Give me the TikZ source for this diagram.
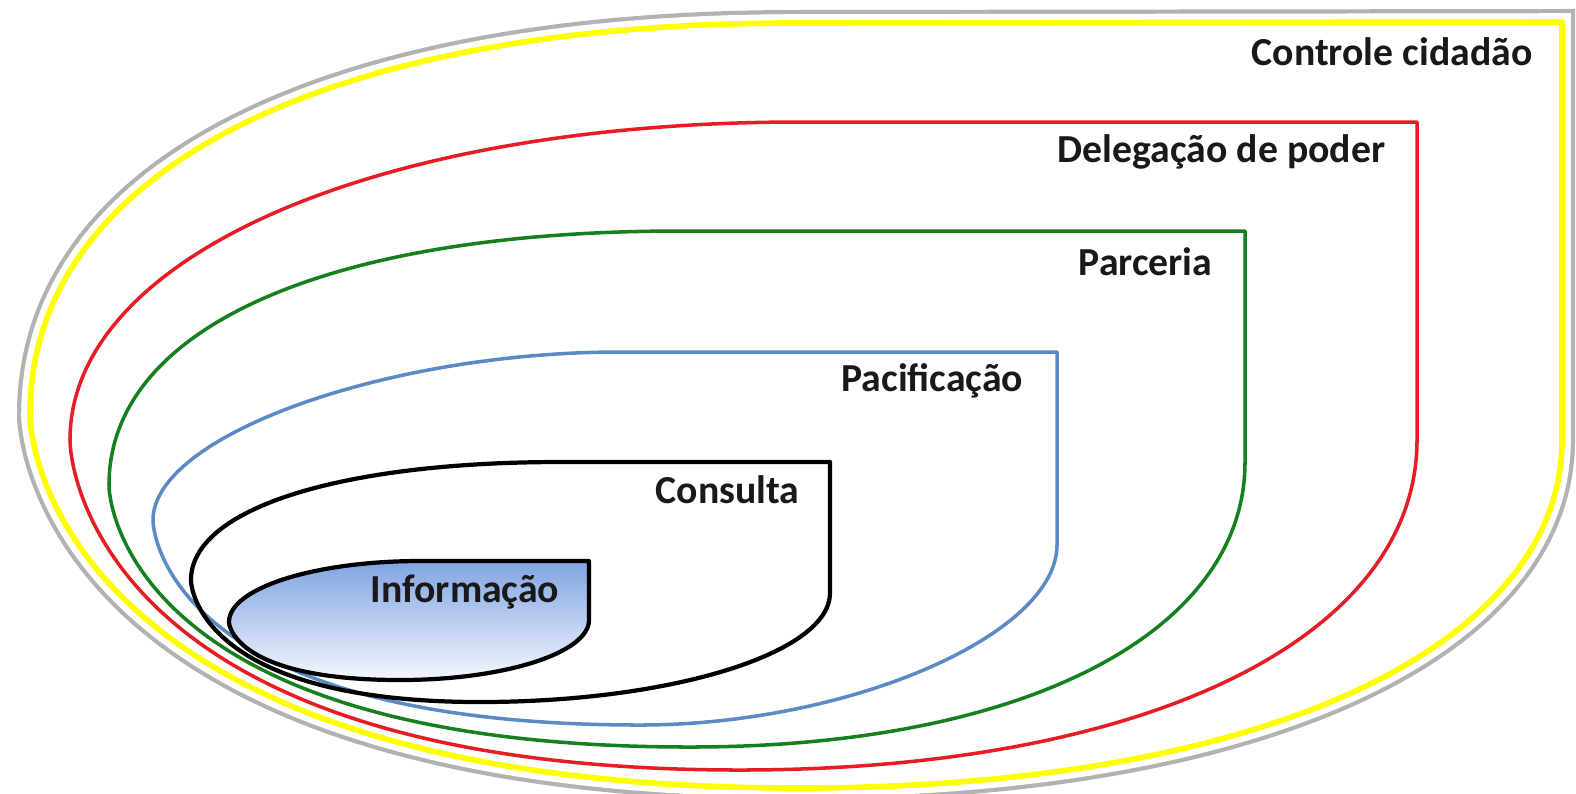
\documentclass[tikz,border=0pt]{standalone}
\usepackage{fontspec}
\setmainfont{Carlito}
\definecolor{amarelo}{RGB}{255,255,0}
\definecolor{vermelho}{RGB}{232,28,36}
\definecolor{verde}{RGB}{22,128,30}
\definecolor{azul}{RGB}{92,138,196}
\definecolor{azulinfo}{RGB}{128,164,226}

\begin{document}
\begin{tikzpicture}[x=0.01cm, y=-0.01cm,
    rotulo/.style={font=\fontsize{11.3}{13}\selectfont\bfseries, text=black!90, anchor=east, inner sep=0pt},
    borda/.style={line width=1pt, line join=round}]
      \useasboundingbox (0,0) rectangle (1576,793);
      %cantos
      \coordinate (Y) at (1562,22);
      \coordinate (R) at (1417,122);
      \coordinate (G) at (1245,231);
      \coordinate (B) at (1057,352);
      \coordinate (K) at (830,462);
      \coordinate (I) at (589,561);
      %controle cidadao
      \draw[borda, amarelo, line width=1.6pt,
        preaction={draw=gray!60, line width=7.4pt},
        preaction={fill=white, draw=white, line width=5pt}]
        (Y) -- (1562,440) .. controls (1562,649) and (1257,788) .. (800,788)
        .. controls (67,788) and (30,448) .. (30,415)
        .. controls (30,172) and (321,23) .. (796,23) -- cycle;
      %delegacao de poder
      \draw[borda, vermelho]
        (R) -- (1417,440) .. controls (1417,638) and (1146,770) .. (740,770)
        .. controls (103,770) and (70,470) .. (70,440)
        .. controls (70,256) and (377,122) .. (800,122) -- cycle;
      %parceria
      \draw[borda, verde]
        (G) -- (1245,462) .. controls (1245,633) and (1023,747) .. (690,747)
        .. controls (138,747) and (109,509) .. (109,485)
        .. controls (109,328) and (326,231) .. (680,231) -- cycle;
      %pacificacao
      \draw[borda, azul]
        (B) -- (1057,545) .. controls (1057,635) and (848,725) .. (640,725)
        .. controls (177,725) and (153,538) .. (153,520)
        .. controls (153,436) and (386,352) .. (620,352) -- cycle;
      %consulta
      \draw[borda, black, line width=1.2pt]
        (K) -- (830,593) .. controls (830,653) and (672,702) .. (480,702)
        .. controls (205,702) and (191,591) .. (191,580)
        .. controls (191,509) and (339,462) .. (560,462) -- cycle;
      %informacao
      \shadedraw[borda, draw=black, line width=1.2pt, top color=azulinfo, bottom color=azulinfo!8]
        (I) -- (589,620) .. controls (589,653) and (504,680) .. (400,680)
        .. controls (238,680) and (229,627) .. (229,622)
        .. controls (229,588) and (315,561) .. (420,561) -- cycle;
      %rotulos
      \node[rotulo] (controle) at (1533,52) {Controle cidadão};
      \node[rotulo] (delegacao) at (1386,152) {Delegação de poder};
      \node[rotulo] (parceria) at (1213,262) {Parceria};
      \node[rotulo] (pacificacao) at (1024,381) {Pacificação};
      \node[rotulo] (consulta) at (800,490) {Consulta};
      \node[rotulo] (informacao) at (560,592) {Informação};
\end{tikzpicture}
\end{document}
